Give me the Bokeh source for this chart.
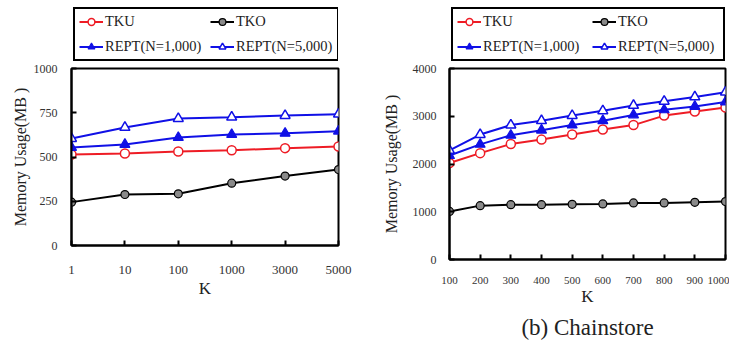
from bokeh.plotting import figure
from bokeh.layouts import row, column
from bokeh.models import Legend, LegendItem, FixedTicker, Title, Range1d
from bokeh.embed import file_html
from bokeh.resources import INLINE

FONT = "Liberation Serif"

# ---- data (a): K categories evenly spaced ----
k_labels_a = ["1", "10", "100", "1000", "3000", "5000"]
tku_a = [514, 520, 531, 538, 550, 559]
tko_a = [245, 288, 292, 352, 392, 429]
rept1_a = [554, 571, 610, 627, 634, 646]
rept5_a = [604, 667, 717, 725, 734, 742]
yticks_a = [0, 250, 500, 750, 1000]

# ---- data (b): Chainstore ----
k_b = [100, 200, 300, 400, 500, 600, 700, 800, 900, 1000]
tku_b = [2021, 2227, 2419, 2511, 2617, 2723, 2815, 3014, 3099, 3185]
tko_b = [1007, 1128, 1149, 1149, 1156, 1163, 1184, 1184, 1198, 1213]
rept1_b = [2177, 2411, 2602, 2709, 2815, 2908, 3028, 3134, 3206, 3298]
rept5_b = [2283, 2617, 2815, 2908, 3014, 3113, 3227, 3312, 3404, 3504]
yticks_b = [0, 1000, 2000, 3000, 4000]

names = ["TKU", "TKO", "REPT(N=1,000)", "REPT(N=5,000)"]
RED = "#ee1c25"
BLUE = "#1010e6"

STYLES = [
    dict(color=RED, marker="circle", size=9, fill="white", mlw=1.5),
    dict(color="black", marker="circle", size=8, fill="#8a8a8a", mlw=1.2),
    dict(color=BLUE, marker="triangle", size=10, fill=BLUE, mlw=1.2),
    dict(color=BLUE, marker="triangle", size=10, fill="white", mlw=1.5),
]


def draw_series(p, xs, ys, st):
    l = p.line(xs, ys, line_color=st["color"], line_width=2)
    s = p.scatter(xs, ys, marker=st["marker"], size=st["size"], line_color=st["color"],
                  fill_color=st["fill"], line_width=st["mlw"])
    return [l, s]


def make_legend_fig(xs, series, width, height, loc, label_width):
    # legend-only panel: same series, drawn outside its (empty) visible range
    lf = figure(width=width, height=height, output_backend="svg", toolbar_location=None,
                x_axis_type=None, y_axis_type=None, title=None,
                x_range=Range1d(0, 1), y_range=Range1d(-2, -1),
                min_border_left=0, min_border_right=0, min_border_top=0, min_border_bottom=0)
    lf.grid.visible = False
    lf.outline_line_color = None
    lf.border_fill_color = "white"
    lf.background_fill_color = "white"
    items = []
    for i, (ys, st) in enumerate(zip(series, STYLES)):
        rs = draw_series(lf, xs, ys, st)
        items.append(LegendItem(label=names[i], renderers=rs))
    leg = Legend(items=items, orientation="horizontal", nrows=2, location=loc,
                 label_text_font=FONT, label_text_font_size="14.5px", label_text_color="#222",
                 glyph_width=24, glyph_height=17, label_height=17, label_width=label_width,
                 label_standoff=2, spacing=8, padding=4, margin=0,
                 border_line_color="black", border_line_width=2, border_line_alpha=1.0,
                 background_fill_alpha=1.0)
    lf.add_layout(leg, "center")
    return lf


def make_fig(xs, series, x_range, y_range, xticks, yticks, xoverrides,
             width, height, mb, xfs, yfs, xstand, ystand, xlstand, ylstand):
    p = figure(width=width, height=height, output_backend="svg", toolbar_location=None,
               x_range=x_range, y_range=y_range, title=None,
               min_border_left=mb[0], min_border_right=mb[1],
               min_border_top=mb[2], min_border_bottom=mb[3])
    p.grid.visible = False
    p.outline_line_color = "black"
    p.outline_line_width = 2
    p.outline_line_alpha = 1.0
    p.background_fill_color = "white"
    p.border_fill_color = "white"

    for ys, st in zip(series, STYLES):
        draw_series(p, xs, ys, st)

    for ax in (p.xaxis[0], p.yaxis[0]):
        ax.axis_line_color = "black"
        ax.axis_line_width = 2
        ax.major_tick_in = 5
        ax.major_tick_out = 0
        ax.minor_tick_line_color = None
        ax.major_tick_line_color = "black"
        ax.major_tick_line_width = 2
        ax.major_label_text_font = FONT
        ax.major_label_text_color = "#333"
    p.xaxis.ticker = FixedTicker(ticks=xticks)
    if xoverrides:
        p.xaxis.major_label_overrides = xoverrides
    p.yaxis.ticker = FixedTicker(ticks=yticks)
    p.xaxis.major_label_text_font_size = xfs
    p.yaxis.major_label_text_font_size = yfs
    p.xaxis.major_label_standoff = xstand
    p.yaxis.major_label_standoff = ystand
    p.xaxis.axis_label = "K"
    p.xaxis.axis_label_text_font = FONT
    p.xaxis.axis_label_text_font_size = "17px"
    p.xaxis.axis_label_text_font_style = "normal"
    p.xaxis.axis_label_text_color = "#222"
    p.xaxis.axis_label_standoff = xlstand
    p.yaxis.axis_label = "Memory Usage(MB )"
    p.yaxis.axis_label_text_font = FONT
    p.yaxis.axis_label_text_font_size = "16px"
    p.yaxis.axis_label_text_font_style = "normal"
    p.yaxis.axis_label_text_color = "#222"
    p.yaxis.axis_label_standoff = ylstand
    return p


xs_a = list(range(len(k_labels_a)))
series_a = (tku_a, tko_a, rept1_a, rept5_a)
series_b = (tku_b, tko_b, rept1_b, rept5_b)

lf1 = make_legend_fig(xs_a, series_a, 365, 62, (2, 1), 97)
p1 = make_fig(xs_a, series_a,
              Range1d(0, len(k_labels_a) - 1), Range1d(0, 1000),
              xs_a, yticks_a, {i: k for i, k in enumerate(k_labels_a)},
              365, 278, (71, 27, 6, 95), "13px", "12px", 20, 14, 2, 2)

lf2 = make_legend_fig(k_b, series_b, 364, 62, (2, 1), 101)
p2 = make_fig(k_b, series_b,
              Range1d(100, 1000), Range1d(0, 4000),
              k_b, yticks_b, None,
              364, 281, (84, 4, 6, 84), "11px", "12px", 17, 13, 0, 10)
cap = Title(text="(b) Chainstore", align="center", text_font=FONT,
            text_font_size="23px", text_font_style="normal", text_color="#222", standoff=8)
p2.add_layout(cap, "below")

layout = row(column(lf1, p1), column(lf2, p2))
open("out.html", "w").write(file_html(layout, INLINE))
